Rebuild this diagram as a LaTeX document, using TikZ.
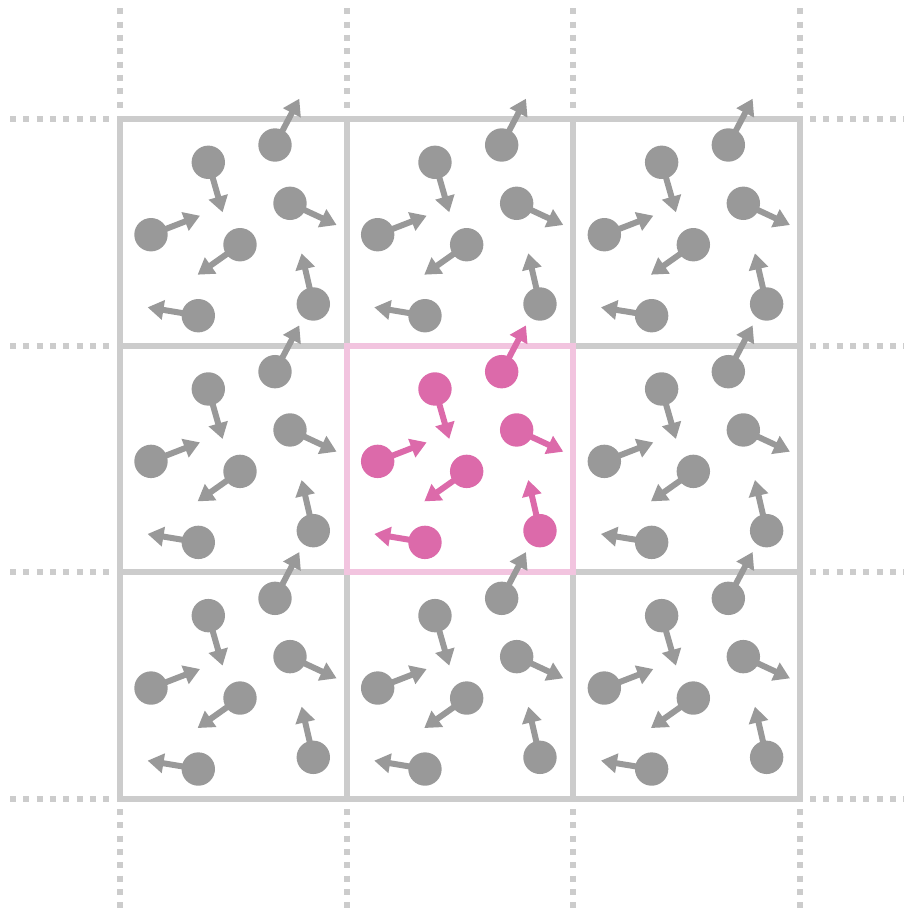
\documentclass[tikz,border=0pt]{standalone}
\usetikzlibrary{arrows.meta}
\definecolor{gridgray}{HTML}{CCCCCC}
\definecolor{partgray}{HTML}{999999}
\definecolor{hotpink}{HTML}{DC6AAA}
\definecolor{lightpink}{HTML}{F2C4DF}
\begin{document}
\begin{tikzpicture}[x=1pt,y=-1pt,
  gridline/.style={draw=gridgray, line width=6pt},
  dotline/.style={draw=gridgray, line width=6pt, dash pattern=on 6pt off 7.333pt},
  cellbox/.style={draw=lightpink, line width=6pt},
  particle/.style={circle, inner sep=0pt, minimum size=33.4pt, fill=#1},
  vel/.style={draw=#1, line width=6pt, -{Triangle[length=16pt,width=19pt]}}]
\useasboundingbox (0,0) rectangle (904,910);
% dotted continuation lines
\foreach \y in {119,345.67,572.33,799}{
  \draw[dotline] (10,\y) -- (110,\y);
  \draw[dotline] (810,\y) -- (904,\y);
}
\foreach \x in {120,346.67,573.33,800}{
  \draw[dotline] (\x,8.3) -- (\x,110);
  \draw[dotline] (\x,809) -- (\x,910);
}
% solid grid
\draw[gridline] (120,119) rectangle (800,799);
\draw[gridline] (346.67,119) -- (346.67,799);
\draw[gridline] (573.33,119) -- (573.33,799);
\draw[gridline] (120,345.67) -- (800,345.67);
\draw[gridline] (120,572.33) -- (800,572.33);
% highlighted cell
\draw[cellbox] (346.67,345.67) rectangle (573.33,572.33);
% particles
\foreach \i/\ox in {0/120,1/346.67,2/573.33}{
  \foreach \j/\oy in {0/119,1/345.67,2/572.33}{
    \ifnum\i=1 \ifnum\j=1 \def\pc{hotpink}\else\def\pc{partgray}\fi\else\def\pc{partgray}\fi
    \foreach \k/\cx/\cy/\tx/\ty in {1/88.3/43.3/102.6/93.3,
                                   2/155/26/179.3/-20.3,
                                   3/31/115.7/80/96.7,
                                   4/170/84.3/216.6/106,
                                   5/120/125.7/77.6/155.7,
                                   6/78.3/196.7/27.6/188.3,
                                   7/193.3/185/181.6/134.3}{
      \node[particle=\pc] (p-\i-\j-\k) at ({\ox+\cx},{\oy+\cy}) {};
      \coordinate (t-\i-\j-\k) at ({\ox+\tx},{\oy+\ty});
      \draw[vel=\pc] (p-\i-\j-\k.center) -- (t-\i-\j-\k);
    }
  }
}
\end{tikzpicture}
\end{document}
